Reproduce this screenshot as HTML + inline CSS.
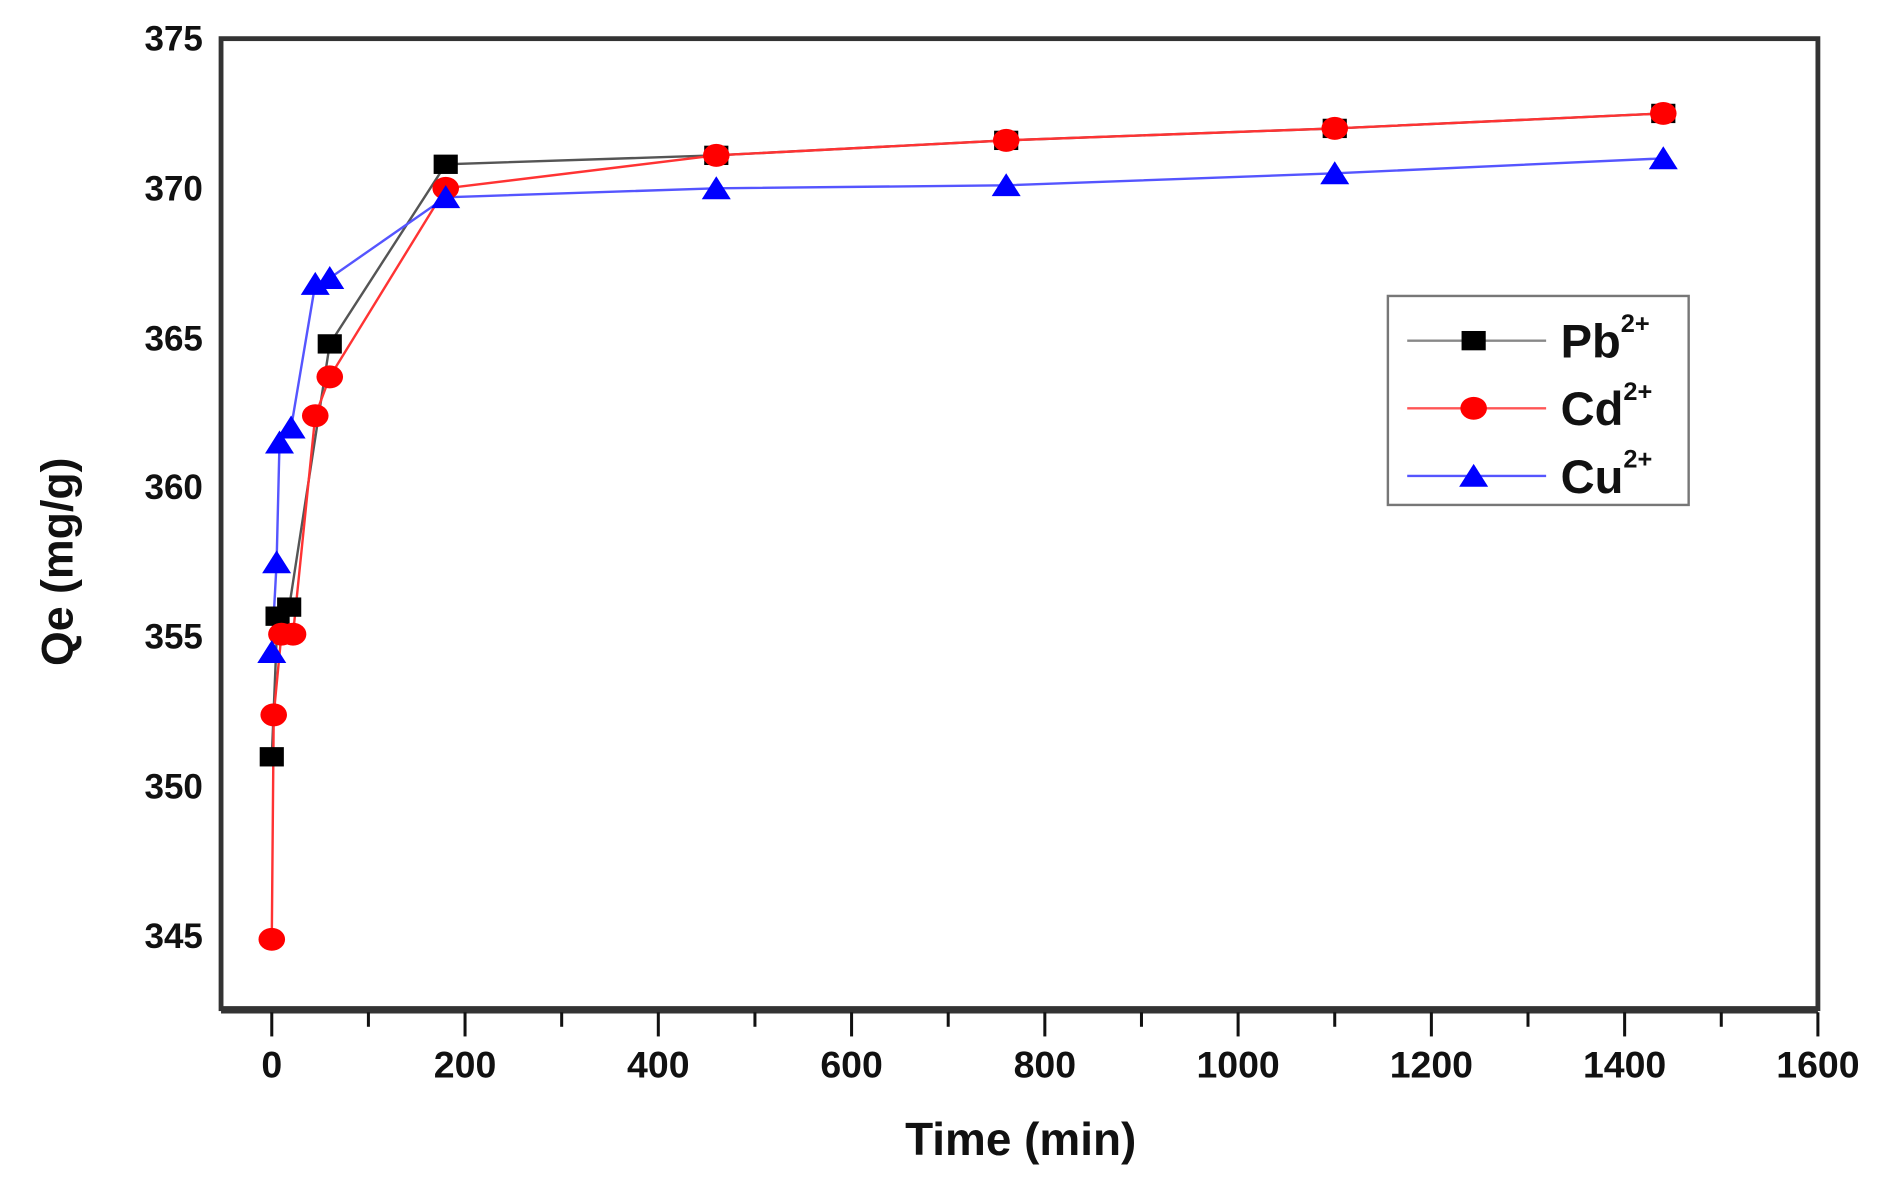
<!DOCTYPE html>
<html><head><meta charset="utf-8"><style>
html,body{margin:0;padding:0;background:#fff;}
svg{display:block;}
text{font-family:"Liberation Sans",Arial,sans-serif;font-weight:bold;fill:#111;}
</style></head><body>
<svg width="1894" height="1182" viewBox="0 0 1568 978.5" preserveAspectRatio="none" xmlns="http://www.w3.org/2000/svg">
<defs>
<g id="sq"><rect x="-10" y="-8" width="20" height="16" fill="#000"/></g>
<g id="ci"><ellipse rx="11" ry="9.5" fill="#f00"/></g>
<g id="tr"><polygon points="0,-10 12,9 -12,9" fill="#00f"/></g>
</defs>
<rect x="183" y="32" width="1322" height="803" fill="none" stroke="#333" stroke-width="4"/>
<line x1="183" y1="836" x2="1505" y2="836" stroke="#333" stroke-width="6"/>
<g stroke="#111" stroke-width="2.5">
<line x1="225" y1="838" x2="225" y2="858"/><line x1="305" y1="838" x2="305" y2="850"/>
<line x1="385" y1="838" x2="385" y2="858"/><line x1="465" y1="838" x2="465" y2="850"/>
<line x1="545" y1="838" x2="545" y2="858"/><line x1="625" y1="838" x2="625" y2="850"/>
<line x1="705" y1="838" x2="705" y2="858"/><line x1="785" y1="838" x2="785" y2="850"/>
<line x1="865" y1="838" x2="865" y2="858"/><line x1="945" y1="838" x2="945" y2="850"/>
<line x1="1025" y1="838" x2="1025" y2="858"/><line x1="1105" y1="838" x2="1105" y2="850"/>
<line x1="1185" y1="838" x2="1185" y2="858"/><line x1="1265" y1="838" x2="1265" y2="850"/>
<line x1="1345" y1="838" x2="1345" y2="858"/><line x1="1425" y1="838" x2="1425" y2="850"/>
<line x1="1505" y1="838" x2="1505" y2="858"/>
</g>
<g font-size="31" text-anchor="middle">
<text x="225" y="892">0</text><text x="385" y="892">200</text><text x="545" y="892">400</text>
<text x="705" y="892">600</text><text x="865" y="892">800</text><text x="1025" y="892">1000</text>
<text x="1185" y="892">1200</text><text x="1345" y="892">1400</text><text x="1505" y="892">1600</text>
</g>
<g font-size="29" text-anchor="end">
<text x="168" y="42">375</text><text x="168" y="166">370</text><text x="168" y="290">365</text>
<text x="168" y="413">360</text><text x="168" y="537">355</text><text x="168" y="661">350</text>
<text x="168" y="785">345</text>
</g>
<text x="845" y="956" font-size="38" text-anchor="middle">Time (min)</text>
<text transform="translate(60,465) rotate(-90)" font-size="37" text-anchor="middle">Qe (mg/g)</text>
<polyline fill="none" stroke="#555" stroke-width="2" points="225,626.5 229.8,510.1 239.4,502.6 273,284.7 369,136 593,128.6 833,116.2 1105,106.3 1377,93.9"/>
<polyline fill="none" stroke="#f33" stroke-width="2" points="225,777.6 226.6,591.8 233,525 242.6,525 261,344.2 273,312 369,155.9 593,128.6 833,116.2 1105,106.3 1377,93.9"/>
<polyline fill="none" stroke="#55f" stroke-width="2" points="225,539.9 229,465.6 231.4,366.4 241,354 261,235.1 273,230.2 369,163.3 593,155.9 833,153.4 1105,143.5 1377,131.1"/>
<use href="#sq" x="225" y="626.5"/><use href="#sq" x="229.8" y="510.1"/><use href="#sq" x="239.4" y="502.6"/>
<use href="#sq" x="273" y="284.7"/><use href="#sq" x="369" y="136"/><use href="#sq" x="593" y="128.6"/>
<use href="#sq" x="833" y="116.2"/><use href="#sq" x="1105" y="106.3"/><use href="#sq" x="1377" y="93.9"/>
<use href="#ci" x="225" y="777.6"/><use href="#ci" x="226.6" y="591.8"/><use href="#ci" x="233" y="525"/>
<use href="#ci" x="242.6" y="525"/><use href="#ci" x="261" y="344.2"/><use href="#ci" x="273" y="312"/>
<use href="#ci" x="369" y="155.9"/><use href="#ci" x="593" y="128.6"/><use href="#ci" x="833" y="116.2"/>
<use href="#ci" x="1105" y="106.3"/><use href="#ci" x="1377" y="93.9"/>
<use href="#tr" x="225" y="539.9"/><use href="#tr" x="229" y="465.6"/><use href="#tr" x="231.4" y="366.4"/>
<use href="#tr" x="241" y="354"/><use href="#tr" x="261" y="235.1"/><use href="#tr" x="273" y="230.2"/>
<use href="#tr" x="369" y="163.3"/><use href="#tr" x="593" y="155.9"/><use href="#tr" x="833" y="153.4"/>
<use href="#tr" x="1105" y="143.5"/><use href="#tr" x="1377" y="131.1"/>
<rect x="1149" y="245" width="249" height="173" fill="#fff" stroke="#777" stroke-width="2"/>
<line x1="1165" y1="282" x2="1280" y2="282" stroke="#888" stroke-width="2"/>
<use href="#sq" x="1220" y="282"/>
<line x1="1165" y1="338" x2="1280" y2="338" stroke="#f55" stroke-width="2"/>
<use href="#ci" x="1220" y="338"/>
<line x1="1165" y1="394" x2="1280" y2="394" stroke="#55f" stroke-width="2"/>
<use href="#tr" x="1220" y="394"/>
<g font-size="39">
<text x="1292" y="296">Pb<tspan font-size="21" dy="-21">2+</tspan></text>
<text x="1292" y="352">Cd<tspan font-size="21" dy="-21">2+</tspan></text>
<text x="1292" y="408">Cu<tspan font-size="21" dy="-21">2+</tspan></text>
</g>
</svg>
</body></html>
